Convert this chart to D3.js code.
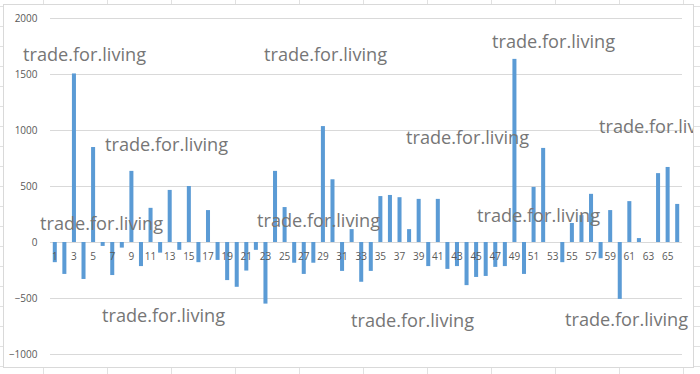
<!DOCTYPE html>
<html>
<head>
<meta charset="utf-8">
<script src="https://cdn.jsdelivr.net/npm/d3@7"></script>
<style>
  html, body { margin: 0; padding: 0; background: #ffffff; }
  svg { display: block; }
</style>
</head>
<body>
<svg id="chart" width="700" height="374"></svg>
<script>
// ---- data ----
const categories = ["1","2","3","4","5","6","7","8","9","10","11","12","13","14","15","16","17","18","19","20",
  "21","22","23","24","25","26","27","28","29","30","31","32","33","34","35","36","37","38","39","40",
  "41","42","43","44","45","46","47","48","49","50","51","52","53","54","55","56","57","58","59","60",
  "61","62","63","64","65","66"];
const values = [-180,-285,1505,-330,848,-35,-295,-50,635,-215,
  305,-95,465,-70,500,-180,285,-160,-340,-400,
  -255,-70,-550,635,312,-185,-285,-185,1035,560,
  -258,115,-355,-258,410,420,400,115,385,-215,
  385,-240,-215,-385,-312,-303,-222,-215,1635,-285,
  492,840,0,-180,170,240,430,-145,285,-508,
  365,35,0,615,670,340];
const yTicks = [-1000,-500,0,500,1000,1500,2000];
const watermarkText = "trade.for.living";

// ---- layout ----
const W = 700, H = 374;
const plot = { left: 50, right: 682, top: 18, bottom: 354 };
const watermarks = [
  [23, 61], [105, 151], [40, 230], [102, 322],
  [264, 61], [406, 144], [257, 227], [351, 327],
  [492, 48], [599, 133], [477, 222], [565, 326]
];

const svg = d3.select("#chart");

// spreadsheet cell grid in background
const cellG = svg.append("g");
for (let x = 43; x < W; x += 64) {
  cellG.append("line").attr("x1", x + 0.5).attr("x2", x + 0.5).attr("y1", 0).attr("y2", H)
    .attr("stroke", "#e1e1e1").attr("stroke-width", 1);
}
for (let y = 6; y < H; y += 20) {
  cellG.append("line").attr("x1", 0).attr("x2", W).attr("y1", y + 0.5).attr("y2", y + 0.5)
    .attr("stroke", "#e1e1e1").attr("stroke-width", 1);
}

// chart area
svg.append("rect")
  .attr("x", 3.5).attr("y", 4.5).attr("width", 690).attr("height", 363)
  .attr("fill", "#ffffff").attr("stroke", "#d9d9d9").attr("stroke-width", 1);

const x = d3.scaleBand().domain(categories).range([plot.left, plot.right])
  .paddingInner(0.58).paddingOuter(0.29);
const y = d3.scaleLinear().domain([-1000, 2000]).range([plot.bottom, plot.top]);

// gridlines
svg.append("g").selectAll("line").data(yTicks).join("line")
  .attr("x1", plot.left).attr("x2", plot.right)
  .attr("y1", d => Math.round(y(d)) + 0.5).attr("y2", d => Math.round(y(d)) + 0.5)
  .attr("stroke", "#d9d9d9").attr("stroke-width", 1);

// y-axis labels
const yAxis = d3.axisLeft(y).tickValues(yTicks).tickSize(0).tickPadding(0).tickFormat(d3.format("d"));
const yg = svg.append("g").attr("transform", "translate(37.5,0)").call(yAxis);
yg.select(".domain").remove();
yg.selectAll("text").attr("fill", "#595959").attr("font-family", "'Open Sans', sans-serif")
  .attr("font-size", "10px");

// bars
svg.append("g").selectAll("rect").data(values).join("rect")
  .attr("x", (d, i) => x(categories[i]))
  .attr("width", x.bandwidth())
  .attr("y", d => y(Math.max(0, d)))
  .attr("height", d => Math.abs(y(d) - y(0)))
  .attr("fill", "#5b9bd5");

// category labels (every other)
const xAxis = d3.axisBottom(x).tickValues(categories.filter((c, i) => i % 2 === 0)).tickSize(0).tickPadding(0);
const xg = svg.append("g").attr("transform", `translate(0,${y(0) + 15})`).call(xAxis);
xg.select(".domain").remove();
xg.selectAll("text").attr("fill", "#595959").attr("font-family", "'Open Sans', sans-serif")
  .attr("font-size", "10px").attr("dy", "0.32em").attr("y", 0);

// watermarks
svg.append("defs").append("clipPath").attr("id", "clip")
  .append("rect").attr("x", 4).attr("y", 5).attr("width", 689).attr("height", 362);
svg.append("g").attr("clip-path", "url(#clip)").selectAll("text").data(watermarks).join("text")
  .attr("x", d => d[0]).attr("y", d => d[1])
  .attr("font-family", "'Open Sans', sans-serif").attr("font-size", "18.5px")
  .attr("fill", "#767676")
  .attr("textLength", 123).attr("lengthAdjust", "spacingAndGlyphs")
  .text(watermarkText);
</script>
</body>
</html>
